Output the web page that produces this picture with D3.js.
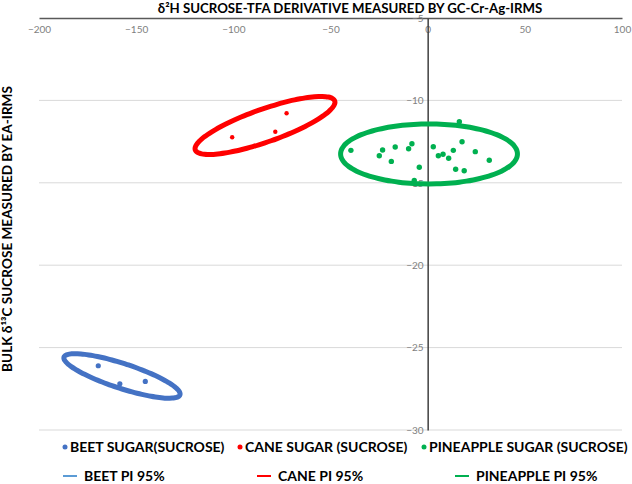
<!DOCTYPE html>
<html>
<head>
<meta charset="utf-8">
<script src="https://cdn.jsdelivr.net/npm/d3@7"></script>
<style>
  body { margin: 0; background: #fff; }
  svg { display: block; }
  text { font-family: Lato, "Open Sans", sans-serif; }
</style>
</head>
<body>
<div id="chart"></div>
<script>
// axis ticks
const xTicks = [-200, -150, -100, -50, 0, 50, 100];
const yTicks = [-5, -10, -15, -20, -25, -30];

// measured samples (d2H, d13C)
const beetX = [-169.5, -158.4, -145.3];
const beetY = [-26.1, -27.2, -27.05];
const caneX = [-100.6, -78.4, -72.6];
const caneY = [-12.24, -11.9, -10.78];
const pineX = [-39.5, -23.2, -24.9, -16.7, -18.7, -8.1, -9.8, -4.3, -6.9, 2.9,
               5.5, 7.9, 10.8, 13.2, 17.7, 16.3, 24.5, 31.7, 14.4, 18.8];
const pineY = [-13.03, -13.01, -13.36, -12.83, -13.7, -12.63, -12.93, -14.06, -14.85, -12.81,
               -13.36, -13.27, -13.51, -13.03, -12.51, -11.29, -13.11, -13.63, -14.18, -14.27];

// 95% prediction ellipses: centre, half ranges, correlation
const piNames = ["BEET PI 95%", "CANE PI 95%", "PINEAPPLE PI 95%"];
const piCx = [-157.3, -83.7, 0.7];
const piCy = [-26.72, -11.52, -13.25];
const piRx = [29.9, 36.0, 45.5];
const piRy = [1.35, 1.76, 1.82];
const piRho = [-0.81, 0.8, 0.0];

const sampleNames = ["BEET SUGAR(SUCROSE)", "CANE SUGAR (SUCROSE)", "PINEAPPLE SUGAR (SUCROSE)"];
const colors = ["#4472C4", "#FF0000", "#00B050"];
const lineColors = ["#5B9BD5", "#FF0000", "#00B050"];

const width = 632, height = 484;
const svg = d3.select("#chart").append("svg")
    .attr("width", width)
    .attr("height", height);

const x = d3.scaleLinear().domain([-200, 100]).range([39, 622]);
const y = d3.scaleLinear().domain([-5, -30]).range([18, 430]);

// gridlines
svg.append("g").selectAll("line").data(yTicks.slice(1)).enter().append("line")
    .attr("x1", x(-200)).attr("x2", x(100))
    .attr("y1", d => y(d)).attr("y2", d => y(d))
    .attr("stroke", "#d9d9d9").attr("stroke-width", 1);

// horizontal axis along the top (crosses at -5)
const xAxis = svg.append("g")
    .attr("transform", "translate(0," + y(-5) + ")")
    .call(d3.axisBottom(x).tickValues(xTicks).tickSize(0).tickPadding(8));
xAxis.select(".domain").attr("stroke", "#595959").attr("stroke-width", 1.5);
xAxis.selectAll("text").attr("fill", "#7f7f7f").style("font-size", "10px")
    .style("font-family", "Lato, sans-serif");

// vertical axis at x = 0
const yAxis = svg.append("g")
    .attr("transform", "translate(" + x(0) + ",0)")
    .call(d3.axisLeft(y).tickValues(yTicks).tickSize(0).tickPadding(4));
yAxis.select(".domain").attr("stroke", "#404040").attr("stroke-width", 1.5);
yAxis.selectAll("text").attr("fill", "#7f7f7f").style("font-size", "10px")
    .style("font-family", "Lato, sans-serif");

// prediction ellipses
const angles = d3.range(0, 72).map(i => i * 2 * Math.PI / 72);
const ellipse = d3.line().curve(d3.curveCardinalClosed);
for (let k = 0; k < piCx.length; k++) {
    let pts = angles.map(function (t) {
        let dx = piRx[k] * Math.cos(t);
        let dy = piRy[k] * (piRho[k] * Math.cos(t) + Math.sqrt(1 - piRho[k] * piRho[k]) * Math.sin(t));
        return [x(piCx[k] + dx), y(piCy[k] + dy)];
    });
    svg.append("path")
        .attr("d", ellipse(pts))
        .attr("fill", "none")
        .attr("stroke", colors[k])
        .attr("stroke-width", 5);
}

// sample points
const groups = [[beetX, beetY, 2.6], [caneX, caneY, 2.2], [pineX, pineY, 2.7]];
groups.forEach(function (g, k) {
    svg.append("g").selectAll("circle").data(g[0]).enter().append("circle")
        .attr("cx", d => x(d))
        .attr("cy", (d, i) => y(g[1][i]))
        .attr("r", g[2])
        .attr("fill", colors[k]);
});

// titles
let title = svg.append("text")
    .attr("x", 350).attr("y", 12.5)
    .attr("text-anchor", "middle")
    .style("font-size", "13px").style("font-weight", "bold").attr("fill", "#000")
    .text("δ²H SUCROSE-TFA DERIVATIVE MEASURED BY GC-Cr-Ag-IRMS");
// title runs from about x=158 to x=543 in the original
let tw = title.node().getComputedTextLength();
let fs = Math.max(12, Math.min(14, 13 * 385 / tw));
title.style("font-size", fs + "px");

svg.append("text")
    .attr("transform", "translate(12,229) rotate(-90)")
    .attr("text-anchor", "middle")
    .style("font-size", "13.6px").style("font-weight", "bold").attr("fill", "#000")
    .text("BULK δ¹³C SUCROSE MEASURED BY EA-IRMS");

// legend
const dotX = [65, 240, 424];
const lineX = [63, 257, 455];
sampleNames.forEach(function (name, k) {
    svg.append("circle").attr("cx", dotX[k]).attr("cy", 447).attr("r", 2.5).attr("fill", colors[k]);
    svg.append("text").attr("x", dotX[k] + 5).attr("y", 452)
        .style("font-size", "14px").style("font-weight", "bold").attr("fill", "#000")
        .text(name);
});
piNames.forEach(function (name, k) {
    svg.append("line").attr("x1", lineX[k]).attr("x2", lineX[k] + 14)
        .attr("y1", 476).attr("y2", 476)
        .attr("stroke", lineColors[k]).attr("stroke-width", 2);
    svg.append("text").attr("x", lineX[k] + 21).attr("y", 481)
        .style("font-size", "14px").style("font-weight", "bold").attr("fill", "#000")
        .text(name);
});
</script>
</body>
</html>
